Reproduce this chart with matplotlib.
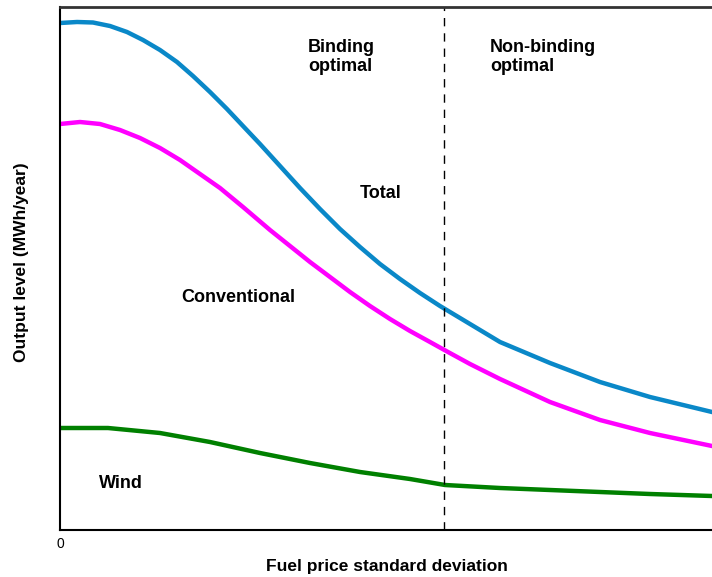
import matplotlib
matplotlib.use("Agg")
import matplotlib.pyplot as plt

plt.rcParams['font.family'] = ['Liberation Sans', 'DejaVu Sans']

# x: fuel price standard deviation (arbitrary units, 0..652)
# y: output level (arbitrary units, 0..523)
total_x = [0, 17, 33, 50, 67, 83, 100, 117, 133, 150, 167, 183, 200, 220, 240, 260,
           280, 300, 320, 340, 360, 380, 400, 420, 440, 490, 540, 590, 652]
total_y = [507, 508, 507.5, 504, 498, 490, 480, 468, 454, 438, 421, 404, 386, 364, 342, 321,
           301, 283, 266, 251, 237, 224, 212, 200, 188, 167, 148, 133, 118]
conv_x = [0, 20, 40, 60, 80, 100, 120, 140, 160, 183, 210, 230, 250, 270, 290,
          310, 330, 350, 370, 388, 410, 440, 490, 540, 590, 652]
conv_y = [406, 408, 406, 400, 392, 382, 370, 356, 342, 323, 300, 284, 268, 253, 238,
          224, 211, 199, 188, 178, 166, 151, 128, 110, 97, 84]
wind_x = [0, 48, 100, 150, 200, 250, 300, 350, 385, 440, 490, 540, 590, 652]
wind_y = [102, 102, 97, 88, 77, 67, 58, 51, 45, 42, 40, 38, 36, 34]

boundary_x = 384
x_ticks = [0]
x_tick_labels = ["0"]

fig = plt.figure(figsize=(7.12, 5.77), dpi=100)
ax = fig.add_axes([60/712, 47/577, 652/712, 523/577])

ax.plot(total_x, total_y, color='#0a88c8', lw=3.2, solid_joinstyle='round')
ax.plot(conv_x, conv_y, color='#ff00ff', lw=3.2, solid_joinstyle='round')
ax.plot(wind_x, wind_y, color='#008000', lw=3.2, solid_joinstyle='round')
ax.axvline(boundary_x, color='black', lw=1.0, ls=(0, (6, 5)))

ax.set_xlim(0, 652)
ax.set_ylim(0, 523)
ax.spines['right'].set_visible(False)
ax.spines['top'].set_color('#333333')
ax.spines['top'].set_linewidth(2)
ax.spines['left'].set_linewidth(1.5)
ax.spines['bottom'].set_linewidth(1.5)
ax.set_xticks(x_ticks)
ax.set_xticklabels(x_tick_labels, fontsize=10)
ax.tick_params(axis='x', length=0, pad=5)
ax.set_yticks([])

kw = dict(fontsize=13, fontweight='bold', linespacing=1.15)
ax.text(248, 473, "Binding\noptimal", ha='left', va='center', **kw)
ax.text(430, 473, "Non-binding\noptimal", ha='left', va='center', **kw)
ax.text(300, 337, "Total", ha='left', va='center', **kw)
ax.text(121, 232, "Conventional", ha='left', va='center', **kw)
ax.text(39, 47, "Wind", ha='left', va='center', **kw)

fig.text(387/712, 1 - 566/577, "Fuel price standard deviation", ha='center', va='center',
         fontsize=12.5, fontweight='bold')
fig.text(22/712, 1 - 262/577, "Output level (MWh/year)", ha='center', va='center',
         rotation=90, fontsize=12.5, fontweight='bold')

fig.savefig("out.png", dpi=100)
